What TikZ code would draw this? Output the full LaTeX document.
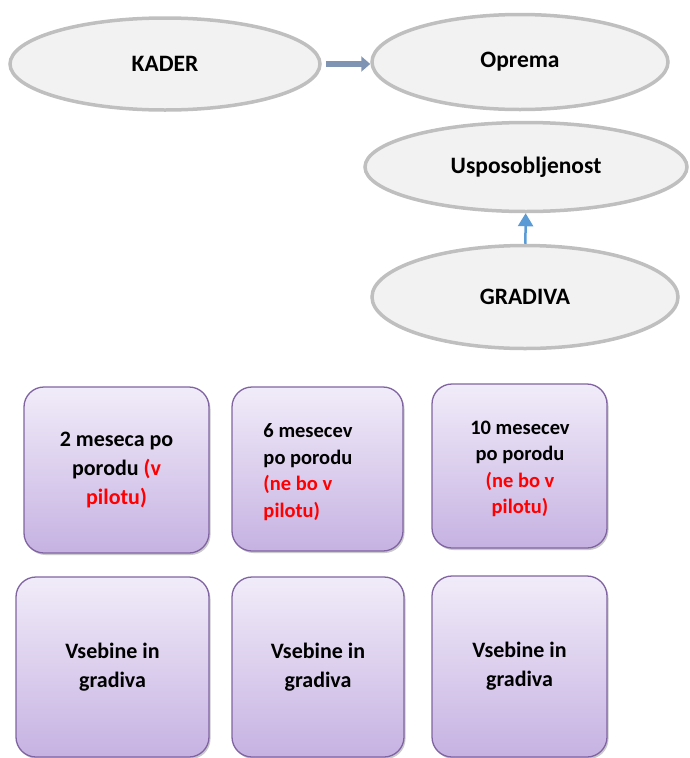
\documentclass[tikz,border=0pt]{standalone}
\usepackage{fontspec}
\setmainfont{Carlito}
\usetikzlibrary{shapes.geometric,arrows.meta,shadows}
\definecolor{ellfill}{HTML}{F2F2F2}
\definecolor{elldraw}{HTML}{BFBFBF}
\definecolor{boxtop}{HTML}{F1ECF9}
\definecolor{boxbot}{HTML}{C6B2E2}
\definecolor{boxdraw}{HTML}{8064A2}
\definecolor{slatearrow}{HTML}{7F93B3}
\definecolor{bluearrow}{HTML}{5B9BD5}
\definecolor{redtext}{HTML}{FF0000}
\tikzset{
  oval/.style={ellipse, draw=elldraw, fill=ellfill, line width=3.5pt, inner sep=0pt,
    font=\fontsize{23.5}{27}\selectfont\bfseries},
  pbox/.style={rectangle, rounded corners=20pt, draw=boxdraw, line width=1.3pt,
    top color=boxtop, bottom color=boxbot, inner sep=0pt,
    drop shadow={shadow xshift=1.5pt, shadow yshift=-2pt, opacity=0.35, fill=black!60},
    font=\fontsize{22}{29}\selectfont\bfseries, align=center},
  boxtxt/.style={inner sep=0pt, font=\fontsize{20.5}{26.5}\selectfont\bfseries},
}
\newcommand{\rt}[1]{\textcolor{redtext}{#1}}
\begin{document}
\begin{tikzpicture}[x=1pt,y=-1pt]
\useasboundingbox (0,0) rectangle (689,758);
\node[oval, minimum width=310pt, minimum height=92pt] (kader) at (165,64) {KADER};
\node[oval, minimum width=296pt, minimum height=95pt] (oprema) at (520,62) {Oprema};
\node[oval, minimum width=322pt, minimum height=89pt] (uspo) at (526,167) {Usposobljenost};
\node[oval, minimum width=306pt, minimum height=103pt] (grad) at (525,297) {GRADIVA};
\draw[slatearrow, line width=6pt, -{Triangle[length=9pt,width=15pt]}, shorten <=4pt] (kader.east |- 0,64) -- (oprema.west |- 0,64);
\draw[bluearrow, line width=2.5pt, -{Triangle[length=13pt,width=15pt]}] (grad) -- (uspo);
\node[pbox, minimum width=185pt, minimum height=166pt] (b1) at (116.5,470) {2 meseca po\\porodu \rt{(v}\\\rt{pilotu)}};
\node[pbox, minimum width=171pt, minimum height=164pt] (b2) at (317.5,469) {};
\node[boxtxt, align=left] (t2) at (308,472) {6 mesecev\\po porodu\\\rt{(ne bo v}\\\rt{pilotu)}};
\node[pbox, minimum width=175pt, minimum height=164pt] (b3) at (519.5,466) {};
\node[boxtxt, align=center] (t3) at (520,469) {10 mesecev\\po porodu\\\rt{(ne bo v}\\\rt{pilotu)}};
\node[pbox, minimum width=193pt, minimum height=180pt] (b4) at (112.5,667) {Vsebine in\\gradiva};
\node[pbox, minimum width=172pt, minimum height=180pt] (b5) at (318,667) {Vsebine in\\gradiva};
\node[pbox, minimum width=175pt, minimum height=181pt] (b6) at (519.5,666.5) {Vsebine in\\gradiva};
\end{tikzpicture}
\end{document}
